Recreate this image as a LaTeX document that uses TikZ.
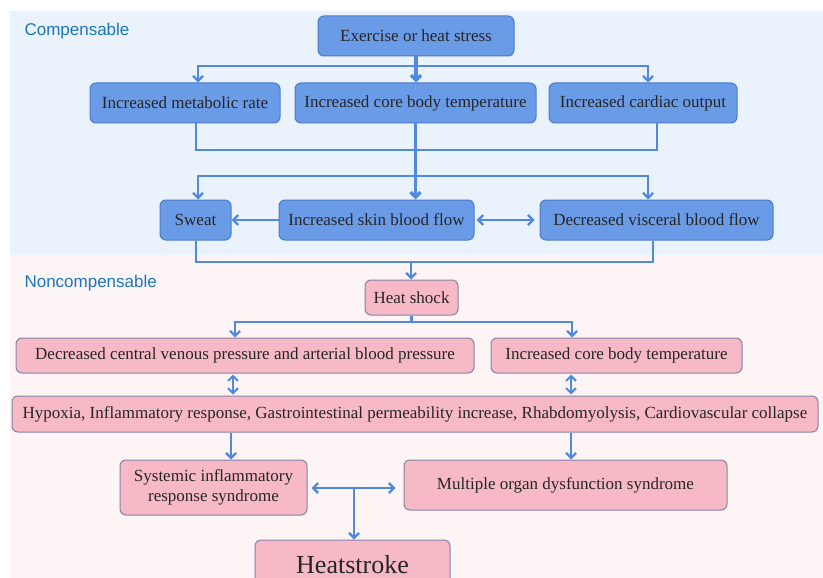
\documentclass[tikz,border=0pt]{standalone}
\usepackage{fontspec}
\setmainfont{Liberation Serif}
\newfontfamily\labelfont{Liberation Sans}
\usetikzlibrary{arrows.meta,positioning,calc}
\definecolor{compbg}{HTML}{EAF2FB}
\definecolor{noncbg}{HTML}{FDF4F6}
\definecolor{boxblue}{HTML}{6A9BE6}
\definecolor{edgeblue}{HTML}{4A7ACB}
\definecolor{boxpink}{HTML}{F7B9C5}
\definecolor{edgepink}{HTML}{8383A8}
\definecolor{flow}{HTML}{5289E0}
\definecolor{zone}{HTML}{1C76BC}
\tikzset{
  bluebox/.style={draw=edgeblue,fill=boxblue,line width=1pt,rounded corners=6pt,
    inner sep=0pt,text=black!85,font=\fontsize{17}{20}\selectfont,align=center},
  pinkbox/.style={bluebox,draw=edgepink,fill=boxpink},
  link/.style={flow,line width=2.3pt,-{Straight Barb[length=5pt,width=10pt]}},
  plain/.style={flow,line width=2.3pt},
  both/.style={link,{Straight Barb[length=5pt,width=10pt]}-{Straight Barb[length=5pt,width=10pt]}},
  main/.style={link,line width=3.2pt}
}
\begin{document}
\begin{tikzpicture}[x=1pt,y=-1pt]
  \useasboundingbox (0,0) rectangle (823,578);
  \fill[compbg] (10,11) rectangle (823,255);
  \fill[noncbg] (10,255) rectangle (823,578);
  \node[zone,font=\labelfont\fontsize{17}{20}\selectfont,anchor=west] (comp) at (21,31) {Compensable};
  \node[zone,font=\labelfont\fontsize{17}{20}\selectfont,anchor=west] (nonc) at (21,283) {Noncompensable};

  % compensable part
  \node[bluebox,minimum width=196,minimum height=40] (ex) at (416,36) {Exercise or heat stress};
  \node[bluebox,minimum width=190,minimum height=40] (meta) at (185,103) {Increased metabolic rate};
  \node[bluebox,minimum width=241,minimum height=40] (core) at (415.5,103) {Increased core body temperature};
  \node[bluebox,minimum width=188,minimum height=40] (card) at (643,103) {Increased cardiac output};
  \node[bluebox,minimum width=71,minimum height=40] (sweat) at (195.5,220) {Sweat};
  \node[bluebox,minimum width=195,minimum height=40] (skin) at (376.5,220) {Increased skin blood flow};
  \node[bluebox,minimum width=233,minimum height=40] (visc) at (656.5,220) {Decreased visceral blood flow};

  \coordinate (j1) at (416,66);
  \coordinate (j2) at (416,150);
  \coordinate (j3) at (415,176);
  \coordinate (j4) at (411,262);
  \draw[main] (ex.south) -- (ex.south |- core.north);
  \draw[link] (j1) -| ([xshift=13]meta.north);
  \draw[link] (j1) -| ([xshift=5]card.north);
  \draw[plain] ([xshift=11]meta.south) |- (j2) -| ([xshift=14]card.south);
  \draw[main] (core.south) -- (core.south |- skin.north);
  \draw[link] (j3) -| ([xshift=2.5]sweat.north);
  \draw[link] (j3) -| ([xshift=-8.5]visc.north);
  \draw[link] (skin.west) -- (sweat.east);
  \draw[both,shorten <=2pt,shorten >=5pt] (skin.east) -- (visc.west);
  \draw[plain] ([xshift=0.5]sweat.south) |- (j4) -| ([xshift=-3.5]visc.south);

  % noncompensable part
  \node[pinkbox,minimum width=93,minimum height=35] (heat) at (411.5,297.5) {Heat shock};
  \node[pinkbox,minimum width=458,minimum height=35] (cvp) at (245,355.5) {Decreased central venous pressure and arterial blood pressure};
  \node[pinkbox,minimum width=251,minimum height=35] (core2) at (616.5,355.5) {Increased core body temperature};
  \node[pinkbox,minimum width=806,minimum height=36] (hyp) at (415,414) {Hypoxia, Inflammatory response, Gastrointestinal permeability increase, Rhabdomyolysis, Cardiovascular collapse};
  \node[pinkbox,minimum width=187,minimum height=55] (sirs) at (213.5,487.5) {Systemic inflammatory\\response syndrome};
  \node[pinkbox,minimum width=323,minimum height=50] (mods) at (565.5,485) {Multiple organ dysfunction syndrome};
  \node[pinkbox,minimum width=195,minimum height=50,font=\fontsize{26}{30}\selectfont] (hs) at (352.5,565) {Heatstroke};

  \coordinate (j5) at (411.5,322);
  \coordinate (j6) at (354,488);
  \draw[link] (j4) -- (j4 |- heat.north);
  \draw[plain] (heat.south) -- (j5);
  \draw[link] (j5) -| ([xshift=-10]cvp.north);
  \draw[link] (j5) -| ([xshift=-44.5]core2.north);
  \draw[both,line width=2pt,shorten <=1pt,shorten >=1pt] ([xshift=-12]cvp.south) -- ([xshift=-12]cvp.south |- hyp.north);
  \draw[both,line width=2pt,shorten <=1pt,shorten >=1pt] ([xshift=-45.5]core2.south) -- ([xshift=-45.5]core2.south |- hyp.north);
  \draw[link] ([xshift=-184]hyp.south) -- ([xshift=-184]hyp.south |- sirs.north);
  \draw[link] ([xshift=156]hyp.south) -- ([xshift=156]hyp.south |- mods.north);
  \draw[both,shorten <=4pt,shorten >=8pt] (sirs.east |- j6) -- (mods.west |- j6);
  \draw[link] (j6) -- (j6 |- hs.north);
\end{tikzpicture}
\end{document}
